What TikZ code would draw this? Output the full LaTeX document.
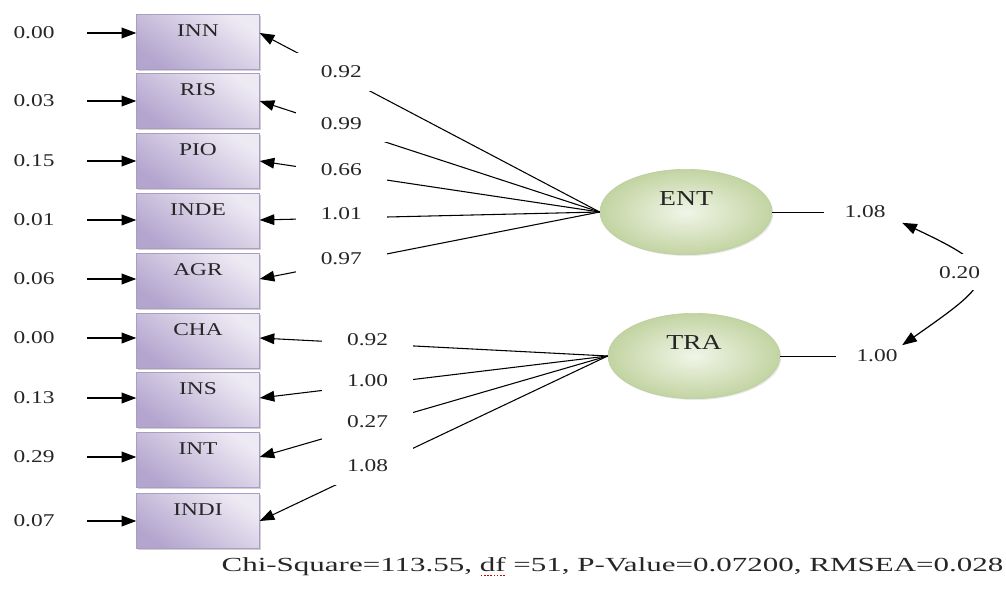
\documentclass[tikz,border=0pt]{standalone}
\usepackage{fontspec}
\setmainfont{Liberation Serif}
\usepackage{graphicx}
\usetikzlibrary{arrows.meta,shapes.geometric,shadows}

\definecolor{boxlight}{HTML}{EEEAF4}
\definecolor{boxdark}{HTML}{B3A5CE}
\definecolor{boxline}{HTML}{A99DC3}
\definecolor{latlight}{HTML}{F1F5E8}
\definecolor{latdark}{HTML}{C2D4A2}
\definecolor{latline}{HTML}{BFCFA3}
\definecolor{txt}{HTML}{262626}

% text in the figure is set wide
\newcommand{\wtxt}[1]{\scalebox{1.3}[1]{#1}}
\newcommand{\spellmark}[1]{\setbox0=\hbox{#1}\rlap{\raisebox{-3pt}{\color{red!80!black}\hbox to \wd0{\xleaders\hbox to 1.5pt{\hss\rule{0.8pt}{0.8pt}\hss}\hfill}}}\box0\relax}

\begin{document}
\begin{tikzpicture}[x=0.75pt,y=-0.75pt]
        \tikzstyle{every node}=[text=txt]

        \tikzstyle{ind}=[draw=boxline,line width=0.5pt,top color=boxlight,bottom color=boxdark,shading angle=-35,
            minimum width=92pt,minimum height=41pt,inner sep=0pt,
            drop shadow={shadow xshift=1.2pt,shadow yshift=-1.2pt,fill=black!40,opacity=0.45}]
        \tikzstyle{lat}=[ellipse,draw=latline,line width=0.5pt,inner color=latlight,outer color=latdark,
            minimum width=129pt,minimum height=64pt,inner sep=0pt,
            drop shadow={shadow xshift=1pt,shadow yshift=-1pt,fill=black!25,opacity=0.35}]
        \tikzstyle{boxtxt}=[font=\fontsize{13.5}{15}\selectfont]
        \tikzstyle{lattxt}=[font=\fontsize{16}{18}\selectfont]
        \tikzstyle{num}=[font=\fontsize{13.5}{16}\selectfont]
        \tikzstyle{loadlab}=[num,fill=white,minimum width=68pt,minimum height=28pt,inner sep=0pt]
        \tikzstyle{errarrow}=[-{Triangle[length=11pt,width=8pt]},line width=1.1pt,shorten <=21pt]
        \tikzstyle{load}=[-{Triangle[length=11pt,width=8pt]},line width=0.8pt]
        \tikzstyle{cov}=[{Triangle[length=11pt,width=8pt]}-{Triangle[length=11pt,width=8pt]},line width=0.9pt]

        \useasboundingbox (0,0) rectangle (1006,592);

        % indicators with their error terms
        \foreach \nm/\cy/\ey/\err in {INN/42/33/0.00, RIS/101/101/0.03, PIO/161/161/0.15,
                INDE/221/220/0.01, AGR/281/279/0.06, CHA/341/338/0.00,
                INS/400/398/0.13, INT/460/457/0.29, INDI/521/521/0.07} {
            \node[ind] (\nm) at (198,\cy) {};
            \node[boxtxt] at ([yshift=8.25pt]\nm.center) (\nm_label) {\wtxt{\nm}};
            \node[num] at (34,\ey) (\nm_err) {\wtxt{\err}};
            \draw[errarrow] (\nm_err.east) -- (\nm_err -| \nm.west);
        };

        % latent variables
        \node[lat] (ENT) at (686,212) {};
        \node[lattxt,yshift=10pt] at (ENT.center) (ENT_label) {\wtxt{ENT}};
        \node[lat] (TRA) at (694,356) {};
        \node[lattxt,yshift=10pt] at (TRA.center) (TRA_label) {\wtxt{TRA}};

        % loadings
        \foreach \nm/\val in {INN/0.92, RIS/0.99, PIO/0.66, INDE/1.01, AGR/0.97} {
            \draw[load] (ENT.west) -- node[pos=0.76,yshift=3pt,loadlab] (\nm_load) {\wtxt{\val}} (\nm.east |- \nm_err);
        };
        \foreach \nm/\val in {CHA/0.92, INS/1.00, INT/0.27, INDI/1.08} {
            \draw[load] (TRA.west) -- node[pos=0.69,yshift=3pt,loadlab] (\nm_load) {\wtxt{\val}} (\nm.east |- \nm_err);
        };

        % variances and covariance
        \node[num] at (865,212) (ENT_var) {\wtxt{1.08}};
        \draw[line width=0.6pt,shorten >=12pt] (ENT.east) -- (ENT_var.west);
        \node[num] at (877,356) (TRA_var) {\wtxt{1.00}};
        \draw[line width=0.6pt,shorten >=12pt] (TRA.east) -- (TRA_var.west);
        \draw[cov] ([xshift=9pt]ENT_var.south east) to[out=-25,in=35,looseness=2.4]
            node[num,fill=white,xshift=-12.5pt,yshift=4pt,inner xsep=8pt,inner ysep=9pt] (cov) {\wtxt{0.20}} (TRA_var.north east);

        \node[font=\fontsize{15}{18}\selectfont] at (612.5,567) (fit) {\scalebox{1.55}[1]{Chi-Square=113.55, \spellmark{df} =51, P-Value=0.07200, RMSEA=0.028}};
\end{tikzpicture}
\end{document}
